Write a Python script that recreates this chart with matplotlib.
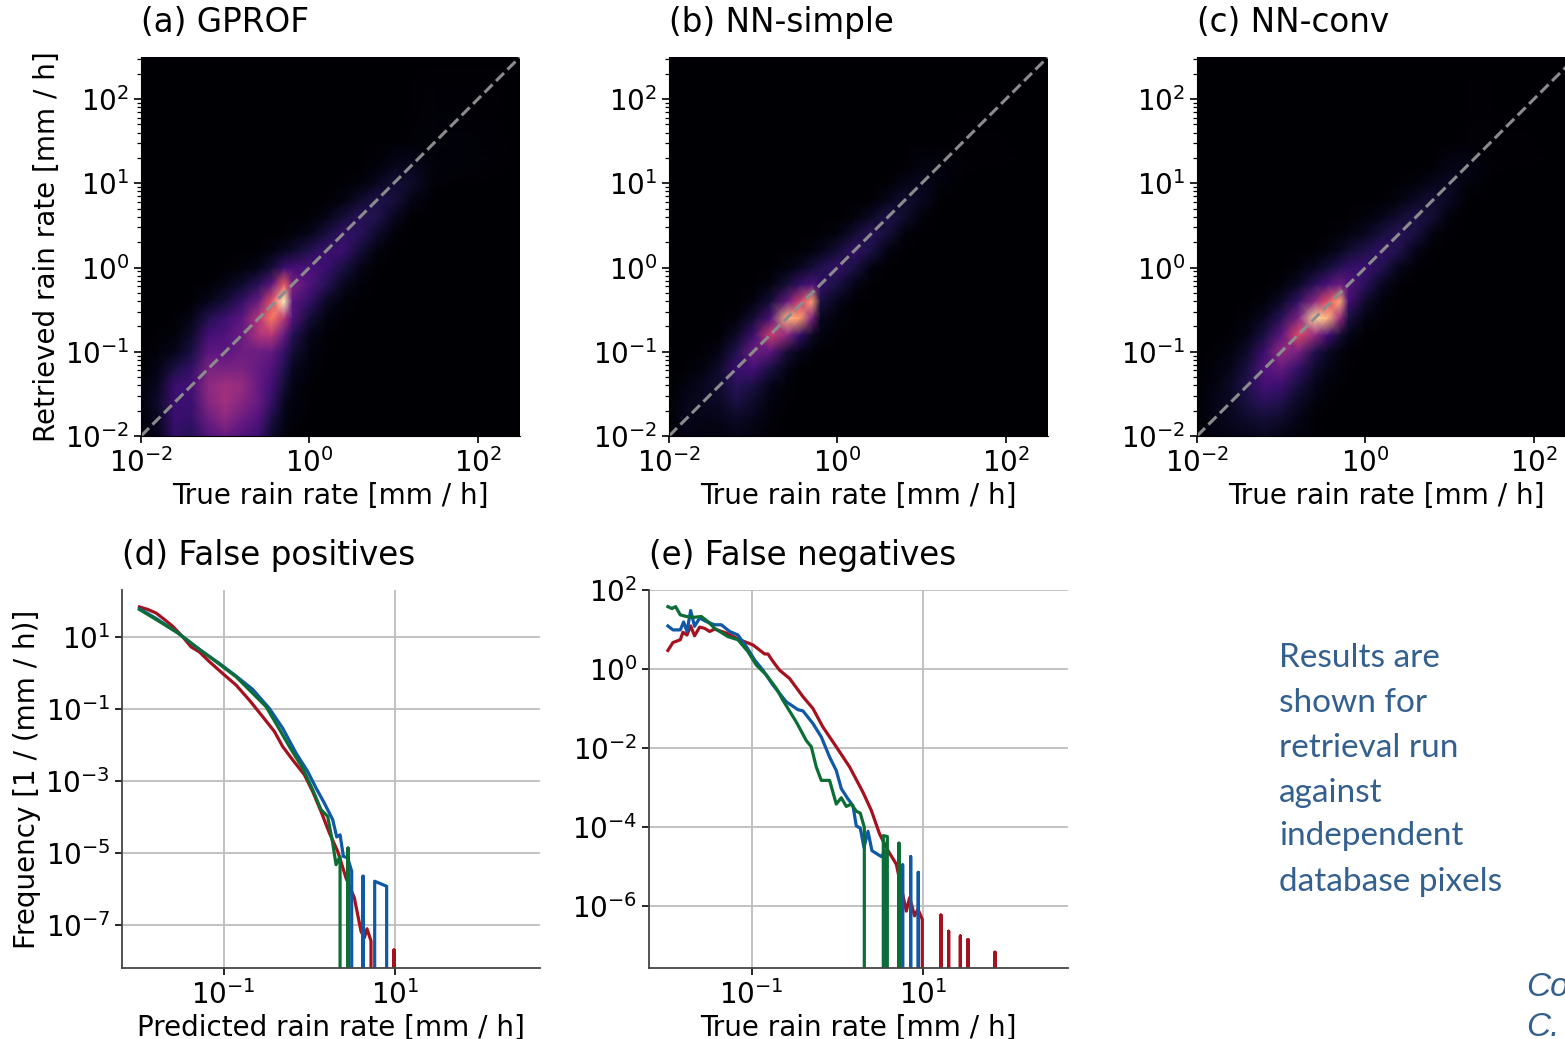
import numpy as np
import matplotlib
matplotlib.use("Agg")
import matplotlib.pyplot as plt
from matplotlib.ticker import FixedLocator, LogFormatterSciNotation, NullLocator, NullFormatter

# grid nodes of the 2d histograms, log10(rain rate)
grid_x = [-2, -1.8, -1.6, -1.4, -1.2, -1, -0.8, -0.6, -0.45, -0.3, -0.2, 0, 0.2, 0.4, 0.6, 0.8, 1, 1.2, 1.5, 2.5]
grid_y = [-2, -1.8, -1.6, -1.4, -1.2, -1, -0.8, -0.6, -0.4, -0.2, 0, 0.2, 0.4, 0.6, 0.8, 1, 1.2, 1.5, 2.5]

# density (percent of colour range), bottom row first
hist_gprof = [
    [2, 5, 18, 15, 25, 30, 25, 20, 8, 3, 1, 0, 0, 0, 0, 0, 0, 0, 0, 0],
    [2, 6, 20, 18, 32, 40, 32, 25, 12, 4, 2, 0, 0, 0, 0, 0, 0, 0, 0, 0],
    [2, 8, 20, 20, 38, 45, 38, 30, 18, 6, 3, 1, 0, 0, 0, 0, 0, 0, 0, 0],
    [2, 6, 20, 22, 40, 45, 42, 30, 22, 10, 4, 1, 0, 0, 0, 0, 0, 0, 0, 0],
    [1, 4, 12, 18, 35, 35, 36, 30, 25, 14, 6, 2, 0, 0, 0, 0, 0, 0, 0, 0],
    [0, 2, 5, 12, 28, 28, 32, 32, 30, 18, 10, 3, 1, 0, 0, 0, 0, 0, 0, 0],
    [0, 1, 2, 8, 22, 25, 32, 48, 50, 30, 15, 5, 1, 0, 0, 0, 0, 0, 0, 0],
    [0, 0, 1, 4, 14, 20, 28, 50, 72, 50, 25, 10, 3, 1, 0, 0, 0, 0, 0, 0],
    [0, 0, 0, 1, 5, 10, 18, 32, 62, 98, 28, 18, 7, 2, 0, 0, 0, 0, 0, 0],
    [0, 0, 0, 0, 1, 4, 8, 16, 28, 65, 35, 25, 15, 6, 2, 0, 0, 0, 0, 0],
    [0, 0, 0, 0, 0, 1, 2, 5, 10, 20, 22, 24, 20, 12, 4, 1, 0, 0, 0, 0],
    [0, 0, 0, 0, 0, 0, 0, 1, 3, 6, 8, 14, 20, 20, 10, 3, 0, 0, 0, 0],
    [0, 0, 0, 0, 0, 0, 0, 0, 0, 1, 2, 5, 11, 18, 16, 8, 2, 0, 0, 0],
    [0, 0, 0, 0, 0, 0, 0, 0, 0, 0, 0, 1, 4, 10, 16, 14, 6, 1, 0, 0],
    [0, 0, 0, 0, 0, 0, 0, 0, 0, 0, 0, 0, 1, 3, 8, 13, 11, 4, 0, 0],
    [0, 0, 0, 0, 0, 0, 0, 0, 0, 0, 0, 0, 0, 1, 2, 6, 10, 8, 1, 0],
    [0, 0, 0, 0, 0, 0, 0, 0, 0, 0, 0, 0, 0, 0, 0, 2, 5, 6, 2, 0],
    [0, 0, 0, 0, 0, 0, 0, 0, 0, 0, 0, 0, 0, 0, 0, 0, 0, 1, 2, 0],
    [0, 0, 0, 0, 0, 0, 0, 0, 0, 0, 0, 0, 0, 0, 0, 0, 0, 0, 0, 0],
]
hist_simple = [
    [0, 4, 3, 3, 5, 3, 1, 0, 0, 0, 0, 0, 0, 0, 0, 0, 0, 0, 0, 0],
    [1, 5, 4, 5, 7, 5, 2, 0, 0, 0, 0, 0, 0, 0, 0, 0, 0, 0, 0, 0],
    [1, 5, 6, 7, 12, 8, 3, 1, 0, 0, 0, 0, 0, 0, 0, 0, 0, 0, 0, 0],
    [0, 3, 6, 9, 16, 12, 5, 2, 0, 0, 0, 0, 0, 0, 0, 0, 0, 0, 0, 0],
    [0, 1, 3, 8, 20, 22, 12, 4, 1, 0, 0, 0, 0, 0, 0, 0, 0, 0, 0, 0],
    [0, 0, 1, 4, 14, 32, 28, 10, 5, 2, 0, 0, 0, 0, 0, 0, 0, 0, 0, 0],
    [0, 0, 0, 1, 7, 20, 55, 40, 18, 7, 3, 1, 0, 0, 0, 0, 0, 0, 0, 0],
    [0, 0, 0, 0, 2, 9, 24, 85, 80, 35, 6, 2, 0, 0, 0, 0, 0, 0, 0, 0],
    [0, 0, 0, 0, 0, 3, 10, 30, 55, 80, 12, 5, 1, 0, 0, 0, 0, 0, 0, 0],
    [0, 0, 0, 0, 0, 0, 3, 10, 18, 24, 18, 12, 4, 1, 0, 0, 0, 0, 0, 0],
    [0, 0, 0, 0, 0, 0, 0, 3, 6, 10, 14, 18, 12, 3, 0, 0, 0, 0, 0, 0],
    [0, 0, 0, 0, 0, 0, 0, 0, 1, 3, 5, 10, 18, 12, 3, 0, 0, 0, 0, 0],
    [0, 0, 0, 0, 0, 0, 0, 0, 0, 0, 1, 3, 9, 16, 10, 2, 0, 0, 0, 0],
    [0, 0, 0, 0, 0, 0, 0, 0, 0, 0, 0, 0, 2, 7, 13, 8, 2, 0, 0, 0],
    [0, 0, 0, 0, 0, 0, 0, 0, 0, 0, 0, 0, 0, 1, 5, 9, 6, 1, 0, 0],
    [0, 0, 0, 0, 0, 0, 0, 0, 0, 0, 0, 0, 0, 0, 1, 4, 6, 3, 0, 0],
    [0, 0, 0, 0, 0, 0, 0, 0, 0, 0, 0, 0, 0, 0, 0, 1, 3, 3, 1, 0],
    [0, 0, 0, 0, 0, 0, 0, 0, 0, 0, 0, 0, 0, 0, 0, 0, 0, 0, 1, 0],
    [0, 0, 0, 0, 0, 0, 0, 0, 0, 0, 0, 0, 0, 0, 0, 0, 0, 0, 0, 0],
]
hist_conv = [
    [0, 3, 4, 5, 6, 4, 2, 1, 0, 0, 0, 0, 0, 0, 0, 0, 0, 0, 0, 0],
    [1, 4, 6, 8, 10, 8, 4, 1, 0, 0, 0, 0, 0, 0, 0, 0, 0, 0, 0, 0],
    [1, 4, 7, 12, 16, 13, 7, 3, 1, 0, 0, 0, 0, 0, 0, 0, 0, 0, 0, 0],
    [1, 3, 7, 14, 22, 20, 11, 5, 2, 1, 0, 0, 0, 0, 0, 0, 0, 0, 0, 0],
    [0, 2, 5, 12, 26, 30, 18, 8, 4, 2, 1, 0, 0, 0, 0, 0, 0, 0, 0, 0],
    [0, 1, 3, 8, 20, 42, 34, 14, 7, 3, 1, 0, 0, 0, 0, 0, 0, 0, 0, 0],
    [0, 0, 1, 4, 12, 28, 60, 42, 22, 10, 4, 1, 0, 0, 0, 0, 0, 0, 0, 0],
    [0, 0, 0, 2, 6, 16, 36, 92, 85, 42, 12, 3, 1, 0, 0, 0, 0, 0, 0, 0],
    [0, 0, 0, 0, 2, 7, 18, 40, 62, 82, 22, 8, 2, 0, 0, 0, 0, 0, 0, 0],
    [0, 0, 0, 0, 0, 2, 7, 16, 24, 32, 26, 16, 6, 1, 0, 0, 0, 0, 0, 0],
    [0, 0, 0, 0, 0, 0, 2, 6, 10, 15, 18, 20, 14, 5, 1, 0, 0, 0, 0, 0],
    [0, 0, 0, 0, 0, 0, 0, 1, 3, 6, 9, 13, 18, 13, 4, 1, 0, 0, 0, 0],
    [0, 0, 0, 0, 0, 0, 0, 0, 1, 2, 3, 6, 11, 16, 11, 3, 0, 0, 0, 0],
    [0, 0, 0, 0, 0, 0, 0, 0, 0, 0, 1, 2, 5, 9, 13, 9, 2, 0, 0, 0],
    [0, 0, 0, 0, 0, 0, 0, 0, 0, 0, 0, 0, 1, 3, 7, 10, 6, 1, 0, 0],
    [0, 0, 0, 0, 0, 0, 0, 0, 0, 0, 0, 0, 0, 1, 2, 5, 7, 3, 0, 0],
    [0, 0, 0, 0, 0, 0, 0, 0, 0, 0, 0, 0, 0, 0, 0, 1, 4, 4, 1, 0],
    [0, 0, 0, 0, 0, 0, 0, 0, 0, 0, 0, 0, 0, 0, 0, 0, 0, 1, 1, 0],
    [0, 0, 0, 0, 0, 0, 0, 0, 0, 0, 0, 0, 0, 0, 0, 0, 0, 0, 0, 0],
]

# empty bins (zero counts) drop off the bottom of the log axis
EMPTY = -12

# (d) false positives, log10 x / log10 y
fp_red_x = [-1.986, -1.889, -1.791, -1.694, -1.596, -1.48, -1.382, -1.285, -1.168, -1.012, -0.856, -0.7, -0.544, -0.407,
            -0.31, -0.193, -0.057, 0.041, 0.138, 0.236, 0.333, 0.431, 0.528, 0.606, 0.645, 0.676, 0.723, 0.723, 0.992, 0.992, 0.992]
fp_red_y = [1.84, 1.77, 1.67, 1.49, 1.3, 1.01, 0.73, 0.59, 0.32, -0.01, -0.33, -0.75, -1.21, -1.62,
            -2.04, -2.41, -2.82, -3.29, -3.84, -4.44, -4.95, -5.69, -6.24, -7.17, -7.35, -7.1, -7.44, EMPTY, EMPTY, -7.69, EMPTY]
fp_blue_x = [-1.986, -1.791, -1.538, -1.285, -1.051, -0.856, -0.661, -0.466, -0.31, -0.154, -0.018, 0.08, 0.177, 0.275,
             0.322, 0.361, 0.4, 0.45, 0.497, 0.497, 0.63, 0.63, 0.63, 0.766, 0.766, 0.906, 0.906]
fp_blue_y = [1.79, 1.52, 1.12, 0.66, 0.27, -0.08, -0.45, -0.98, -1.53, -2.22, -2.73, -3.19, -3.61, -4.07,
             -4.55, -4.49, -5.09, -5.13, -5.5, EMPTY, EMPTY, -5.64, EMPTY, EMPTY, -5.78, -5.92, EMPTY]
fp_green_x = [-1.986, -1.791, -1.538, -1.285, -1.09, -0.856, -0.661, -0.505, -0.368, -0.232, -0.076, 0.041, 0.138, 0.216,
              0.275, 0.314, 0.361, 0.361, 0.454, 0.454, 0.454]
fp_green_y = [1.77, 1.49, 1.12, 0.66, 0.32, -0.1, -0.56, -0.93, -1.48, -2.04, -2.64, -3.24, -3.79, -3.98,
              -4.72, -5.32, -5.09, EMPTY, EMPTY, -4.86, EMPTY]

# (e) false negatives, log10 x / log10 y
fn_red_x = [-1.979, -1.92, -1.834, -1.803, -1.756, -1.713, -1.667, -1.608, -1.55, -1.491, -1.433, -1.296, -1.14, -0.984,
            -0.848, -0.809, -0.75, -0.673, -0.556, -0.4, -0.283, -0.166, -0.01, 0.146, 0.302, 0.4, 0.497, 0.595, 0.692,
            0.75, 0.809, 0.848, 0.906, 0.945, 0.996, 0.996, 1.214, 1.214, 1.214, 1.304, 1.304, 1.304, 1.441, 1.441, 1.441,
            1.53, 1.53, 1.53, 1.846, 1.846, 1.846]
fn_red_y = [0.47, 0.67, 0.74, 0.93, 0.86, 1.09, 0.84, 1.06, 1.03, 0.95, 1.01, 0.91, 0.74, 0.61,
            0.38, 0.38, 0.19, -0.03, -0.24, -0.7, -1.0, -1.47, -1.97, -2.48, -3.12, -3.58, -4.18, -4.6, -4.94,
            -5.53, -6.13, -5.79, -6.25, -6.08, -6.34, EMPTY, EMPTY, -6.23, EMPTY, EMPTY, -6.64, EMPTY, EMPTY, -6.76, EMPTY,
            EMPTY, -6.85, EMPTY, EMPTY, -7.17, EMPTY]
fn_blue_x = [-1.979, -1.92, -1.834, -1.795, -1.756, -1.713, -1.667, -1.608, -1.53, -1.433, -1.355, -1.257, -1.16, -1.062,
             -0.965, -0.867, -0.75, -0.595, -0.458, -0.4, -0.283, -0.185, -0.088, -0.01, 0.049, 0.127, 0.185, 0.224, 0.271,
             0.314, 0.361, 0.407, 0.517, 0.563, 0.563, 0.766, 0.766, 0.766, 0.86, 0.86, 0.86, 0.949, 0.949, 0.949]
fn_blue_y = [1.09, 0.99, 0.99, 1.19, 0.95, 1.48, 1.08, 1.29, 1.2, 1.12, 1.12, 0.95, 0.86, 0.57,
             0.23, -0.03, -0.41, -0.83, -1.03, -1.06, -1.38, -1.72, -2.23, -2.57, -3.03, -3.29, -3.46, -3.97, -4.03,
             -4.52, -4.11, -4.6, -4.75, -4.6, EMPTY, EMPTY, -4.96, EMPTY, EMPTY, -4.75, EMPTY, EMPTY, -5.15, EMPTY]
fn_green_x = [-1.979, -1.932, -1.889, -1.834, -1.764, -1.667, -1.589, -1.511, -1.433, -1.277, -1.16, -1.043, -0.945, -0.828,
              -0.711, -0.634, -0.478, -0.361, -0.302, -0.244, -0.185, -0.088, -0.01, 0.049, 0.107, 0.166, 0.224, 0.271, 0.318,
              0.318, 0.54, 0.54, 0.587, 0.587, 0.723, 0.723, 0.723]
fn_green_y = [1.58, 1.53, 1.58, 1.37, 1.33, 1.31, 1.33, 1.2, 1.03, 0.82, 0.74, 0.44, 0.1, -0.15,
              -0.49, -0.79, -1.34, -1.81, -1.97, -2.48, -2.82, -2.82, -3.42, -3.26, -3.48, -3.42, -3.6, -3.65, -4.01,
              EMPTY, EMPTY, -4.22, -4.24, EMPTY, EMPTY, -4.41, EMPTY]

titles_top = ["(a) GPROF", "(b) NN-simple", "(c) NN-conv"]
note_lines = ["Results are", "shown for", "retrieval run", "against", "independent", "database pixels"]

RED = "#a5121f"
BLUE = "#0f59a6"
GREEN = "#0c6e35"
NOTE = "#34608f"
W, H = 1565, 1039
LABEL = 20

plt.rcParams["font.family"] = "DejaVu Sans"
fig = plt.figure(figsize=(W / 100, H / 100), dpi=100)


def axes_px(left, top, right, bottom):
    return fig.add_axes([left / W, 1 - bottom / H, (right - left) / W, (bottom - top) / H])


# =========================
# TOP ROW
# =========================
tops = [(141, hist_gprof), (669, hist_simple), (1197, hist_conv)]
for i, (left, hist) in enumerate(tops):
    ax = axes_px(left, 57, left + 379, 436)
    ax.pcolormesh(10.0 ** np.array(grid_x), 10.0 ** np.array(grid_y), np.array(hist, dtype=float),
                  cmap="magma", vmin=0, vmax=100, shading="gouraud")
    ax.plot([1e-2, 10 ** 2.5], [1e-2, 10 ** 2.5], color="#8c8c8c", ls="--", lw=2.2)
    ax.set_xscale("log")
    ax.set_yscale("log")
    ax.set_xlim(1e-2, 10 ** 2.5)
    ax.set_ylim(1e-2, 10 ** 2.5)
    ax.xaxis.set_major_locator(FixedLocator([1e-2, 1, 1e2]))
    ax.xaxis.set_major_formatter(LogFormatterSciNotation())
    ax.xaxis.set_minor_locator(NullLocator())
    ax.xaxis.set_minor_formatter(NullFormatter())
    ax.yaxis.set_major_locator(FixedLocator([1e-2, 1e-1, 1, 1e1, 1e2]))
    ax.yaxis.set_major_formatter(LogFormatterSciNotation())
    for s in ["top", "right"]:
        ax.spines[s].set_visible(False)
    ax.tick_params(labelsize=LABEL, length=5, width=1.2)
    ax.tick_params(which="minor", length=3, width=0.9)
    ax.set_xlabel("True rain rate [mm / h]", fontsize=LABEL, labelpad=3)
    if i == 0:
        ax.set_ylabel("Retrieved rain rate [mm / h]", fontsize=LABEL, labelpad=3)
    ax.set_title(titles_top[i], loc="left", fontsize=23.5, pad=18)

# =========================
# BOTTOM ROW
# =========================
ax_d = axes_px(122, 590, 540, 968)
ax_e = axes_px(649, 590, 1068, 968)
series = [
    (ax_d, [(fp_red_x, fp_red_y, RED), (fp_blue_x, fp_blue_y, BLUE), (fp_green_x, fp_green_y, GREEN)]),
    (ax_e, [(fn_red_x, fn_red_y, RED), (fn_blue_x, fn_blue_y, BLUE), (fn_green_x, fn_green_y, GREEN)]),
]
for ax, lines in series:
    for xs, ys, c in lines:
        ax.plot(10.0 ** np.array(xs), 10.0 ** np.array(ys), color=c, lw=2.3)
    ax.set_xscale("log")
    ax.set_yscale("log")
    ax.grid(True, color="#bdbdbd", lw=1.3)
    ax.set_axisbelow(True)
    for s in ["top", "right"]:
        ax.spines[s].set_visible(False)
    for s in ["left", "bottom"]:
        ax.spines[s].set_color("#444444")
        ax.spines[s].set_linewidth(1.3)
    ax.xaxis.set_major_locator(FixedLocator([1e-1, 1e1]))
    ax.xaxis.set_major_formatter(LogFormatterSciNotation())
    ax.xaxis.set_minor_locator(NullLocator())
    ax.xaxis.set_minor_formatter(NullFormatter())
    ax.yaxis.set_minor_locator(NullLocator())
    ax.yaxis.set_minor_formatter(NullFormatter())
    ax.tick_params(labelsize=LABEL, length=5, width=1.2)

ax_d.set_xlim(10 ** -2.19, 10 ** 2.70)
ax_d.set_ylim(10 ** -8.19, 10 ** 2.31)
ax_d.yaxis.set_major_locator(FixedLocator([1e-7, 1e-5, 1e-3, 1e-1, 1e1]))
ax_d.yaxis.set_major_formatter(LogFormatterSciNotation())
ax_d.set_xlabel("Predicted rain rate [mm / h]", fontsize=LABEL, labelpad=3)
ax_d.set_ylabel("Frequency [1 / (mm / h)]", fontsize=LABEL, labelpad=3)
ax_d.set_title("(d) False positives", loc="left", fontsize=23.5, pad=18)

ax_e.set_xlim(10 ** -2.2, 10 ** 2.70)
ax_e.set_ylim(10 ** -7.57, 1e2)
ax_e.yaxis.set_major_locator(FixedLocator([1e-6, 1e-4, 1e-2, 1, 1e2]))
ax_e.yaxis.set_major_formatter(LogFormatterSciNotation())
ax_e.set_xlabel("True rain rate [mm / h]", fontsize=LABEL, labelpad=3)
ax_e.set_title("(e) False negatives", loc="left", fontsize=23.5, pad=18)

# =========================
# SLIDE TEXT
# =========================
note_y = [658, 703, 748, 793, 836, 882]
for line, y in zip(note_lines, note_y):
    fig.text(1279 / W, 1 - y / H, line, color=NOTE, fontsize=24, family="Lato", va="center", ha="left")
fig.text(1526 / W, 1 - 987 / H, "Co", color=NOTE, fontsize=24, family="Liberation Sans", style="italic", va="center")
fig.text(1526 / W, 1 - 1027 / H, "C.", color=NOTE, fontsize=24, family="Liberation Sans", style="italic", va="center")

fig.savefig("out.png", dpi=100)
